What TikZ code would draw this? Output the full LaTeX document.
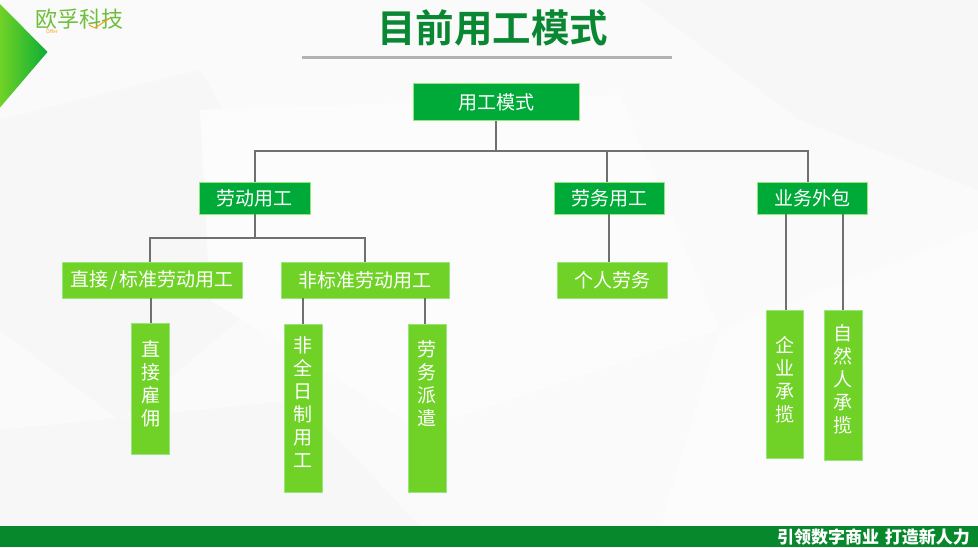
\documentclass[tikz,border=0pt]{standalone}
\usepackage{fontspec}
\setmainfont{Noto Sans CJK SC}[Scale=1]
\newfontfamily\titlefont{Noto Sans CJK SC}[BoldFont={Noto Sans CJK SC Bold}]
\definecolor{darkbox}{RGB}{0,170,56}
\definecolor{lightbox}{RGB}{112,210,38}
\definecolor{edgebox}{RGB}{150,230,125}
\definecolor{titlegreen}{RGB}{10,135,50}
\definecolor{footgreen}{RGB}{8,136,44}
\definecolor{conncol}{RGB}{112,112,112}
\definecolor{logogreen}{RGB}{110,190,60}
\definecolor{logoorange}{RGB}{245,160,40}
\tikzset{
  conn/.style={draw=conncol,line width=2pt},
  dbox/.style={fill=darkbox,draw=edgebox,line width=.6pt,text=white,font=\fontsize{19}{19}\selectfont,inner sep=0pt},
  lbox/.style={dbox,fill=lightbox},
  vbox/.style={lbox,align=center,font=\fontsize{19}{23}\selectfont},
  facet/.style={fill=black!3,draw=none},
  pale/.style={fill=black!1.2,draw=none}
}
\begin{document}
\begin{tikzpicture}[x=1pt,y=-1pt]
\useasboundingbox (0,0) rectangle (978,547);
\fill[black!2] (0,0) rectangle (978,547);
\fill[facet] (0,120)--(200,70)--(310,260)--(120,420)--(0,330)--cycle;
\fill[pale] (200,110)--(620,95)--(720,330)--(420,430)--(210,300)--cycle;
\fill[facet] (640,0)--(978,0)--(978,190)--(800,120)--cycle;
\fill[pale] (720,330)--(978,230)--(978,526)--(660,526)--cycle;
\fill[facet] (0,430)--(300,400)--(420,526)--(0,526)--cycle;
\shade[left color=lightbox,right color=darkbox!90!lightbox] (0,4)--(47.5,52)--(0,107.5)--cycle;
\node (logo) at (79,19)[text=logogreen,font=\fontsize{22}{22}\selectfont,inner sep=0pt]{欧孚科技};
\node (offer) at (52,31.5)[text=logoorange,font=\fontsize{5}{5}\selectfont,inner sep=0pt]{Offer};
\draw[logoorange,line width=1pt] (89,25)--(95,28)--(110,18);
\node (title) at (492.5,28)[text=titlegreen,font=\titlefont\fontsize{38.5}{38.5}\selectfont\bfseries]{目前用工模式};
\draw[black!30,line width=2.5pt] (302,57.5)--(672,57.5);
\fill[footgreen] (0,526) rectangle (978,547);
\node (slogan) at (873.5,537)[text=white,font=\fontsize{17}{17}\selectfont\bfseries,inner sep=0pt]{引领数字商业\hspace{6pt}打造新人力};

\node (root) at (496,102)[dbox,minimum width=166pt,minimum height=37pt]{用工模式};
\node (laodong) at (254.5,198)[dbox,minimum width=111pt,minimum height=32pt]{劳动用工};
\node (laowu) at (609,198)[dbox,minimum width=110pt,minimum height=32pt]{劳务用工};
\node (waibao) at (812,198)[dbox,minimum width=110pt,minimum height=32pt]{业务外包};
\node (zhijie) at (152,280)[lbox,minimum width=180pt,minimum height=36pt]{直接\hspace{2pt}/\hspace{2pt}标准劳动用工};
\node (feibiao) at (365,280)[lbox,minimum width=168pt,minimum height=36pt]{非标准劳动用工};
\node (geren) at (612,280)[lbox,minimum width=110pt,minimum height=36pt]{个人劳务};
\node (guyong) at (150.5,388.5)[vbox,minimum width=38pt,minimum height=131pt]{直\\接\\雇\\佣\\[-13pt]};
\node (quanri) at (303,408)[vbox,minimum width=38pt,minimum height=168pt]{非\\全\\日\\制\\用\\工\\[-11pt]};
\node (paiqian) at (427,408)[vbox,minimum width=38pt,minimum height=168pt]{劳\\务\\派\\遣\\[26pt]};
\node (qiye) at (784.5,384)[vbox,minimum width=37pt,minimum height=148pt]{企\\业\\承\\揽\\[-12pt]};
\node (ziran) at (843,385)[vbox,minimum width=38pt,minimum height=150pt]{自\\然\\人\\承\\揽\\[-9pt]};

\coordinate (busL) at (255,151);
\coordinate (busM) at (607,151);
\coordinate (busR) at (808,151);
\coordinate (subL) at (150,238);
\coordinate (subR) at (365,238);
\coordinate (paiTop) at ([xshift=-2pt]paiqian.north);
\coordinate (qiyeTop) at ([xshift=1.5pt]qiye.north);
\draw[conn] (busL|-laodong.north)--(busL)--(busR)--(busR|-waibao.north);
\draw[conn] (root.south)--(root.south|-busL);
\draw[conn] (busM)--(busM|-laowu.north);
\draw[conn] (subL|-zhijie.north)--(subL)--(subR)--(subR|-feibiao.north);
\draw[conn] (laodong.south)--(laodong.south|-subL);
\draw[conn] (laowu.south)--(laowu.south|-geren.north);
\draw[conn] (guyong.north)--(guyong.north|-zhijie.south);
\draw[conn] (quanri.north)--(quanri.north|-feibiao.south);
\draw[conn] (paiTop)--(paiTop|-feibiao.south);
\draw[conn] (qiyeTop)--(qiyeTop|-waibao.south);
\draw[conn] (ziran.north)--(ziran.north|-waibao.south);
\end{tikzpicture}
\end{document}
